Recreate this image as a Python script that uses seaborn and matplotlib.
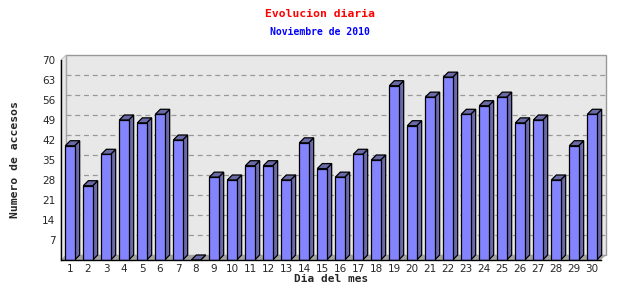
import matplotlib
matplotlib.use("Agg")
import matplotlib.pyplot as plt
from matplotlib.patches import Polygon, Rectangle
import seaborn as sns
import pandas as pd

days = [str(d) for d in range(1, 31)]
visits = [40, 26, 37, 49, 48, 51, 42, 0, 29, 28, 33, 33, 28, 41, 32,
          29, 37, 35, 61, 47, 57, 64, 51, 54, 57, 48, 49, 28, 40, 51]
y_ticks = [7, 14, 21, 28, 35, 42, 49, 56, 63, 70]

title = "Evolucion diaria"
subtitle = "Noviembre de 2010"
x_label = "Dia del mes"
y_label = "Numero de accesos"

FRONT = "#8484ff"
SIDE = "#6a6aa8"
WALL = "#e8e8e8"
FLOOR = "#a4a4a4"

sns.set_style("white")
plt.rcParams['font.family'] = ['DejaVu Sans']

df = pd.DataFrame({"dia": days, "accesos": visits})

fig = plt.figure(figsize=(6.4, 3.0), dpi=100)
ax = fig.add_axes([61 / 640, 40 / 300, 540 / 640, 200 / 300])
ax.set_facecolor("none")

ymax = 70
ax.set_xlim(-0.5, len(days) - 0.5)
ax.set_ylim(0, ymax)

# depth in data units (5 px)
dpx = 5.0
dx = dpx / (540 / len(days))
dy = dpx * ymax / 200

x0, x1 = -0.5, len(days) - 0.5
# back wall
ax.add_patch(Rectangle((x0 + dx, dy), x1 - x0, ymax, facecolor=WALL,
                       edgecolor="#999999", linewidth=1.0, zorder=0, clip_on=False))
# floor
ax.add_patch(Polygon([(x0, 0), (x1, 0), (x1 + dx, dy), (x0 + dx, dy)],
                     closed=True, facecolor=FLOOR, edgecolor="none",
                     zorder=0.5, clip_on=False))
# left wall edge
ax.add_patch(Polygon([(x0, 0), (x0, ymax), (x0 + dx, ymax + dy), (x0 + dx, dy)],
                     closed=True, facecolor=WALL, edgecolor="#bbbbbb",
                     linewidth=0.6, zorder=0.4, clip_on=False))
# grid lines on back wall
for v in y_ticks[:-1]:
    ax.plot([x0 + dx, x1 + dx], [v + dy, v + dy], color="#999999",
            linestyle=(0, (4, 3)), linewidth=0.9, zorder=0.6, clip_on=False)

sns.barplot(data=df, x="dia", y="accesos", color=FRONT, saturation=1,
            width=0.52, edgecolor="black", linewidth=0.9, ax=ax, zorder=3)

for p in list(ax.containers[0]):
    bx = p.get_x()
    bw = p.get_width()
    h = p.get_height()
    top = Polygon([(bx, h), (bx + bw, h), (bx + bw + dx, h + dy), (bx + dx, h + dy)],
                  closed=True, facecolor=SIDE, edgecolor="black", linewidth=0.9,
                  zorder=2.9, clip_on=False)
    side = Polygon([(bx + bw, 0), (bx + bw, h), (bx + bw + dx, h + dy), (bx + bw + dx, dy)],
                   closed=True, facecolor=SIDE, edgecolor="black", linewidth=0.9,
                   zorder=2.8, clip_on=False)
    ax.add_patch(top)
    ax.add_patch(side)

for s in ["top", "right"]:
    ax.spines[s].set_visible(False)
for s in ["left", "bottom"]:
    ax.spines[s].set_color("black")
    ax.spines[s].set_linewidth(1.0)
    ax.spines[s].set_zorder(5)

ax.set_yticks(y_ticks)
ax.set_yticklabels([str(v) for v in y_ticks])
ax.tick_params(axis="y", direction="out", length=3, width=1, color="black",
               labelsize=7.5, pad=1)
ax.set_xticks(range(len(days)))
ax.set_xticklabels(days)
ax.set_xticks([i + 0.5 for i in range(len(days))], minor=True)
ax.tick_params(axis="x", which="major", length=0, labelsize=7.5, pad=3)
ax.tick_params(axis="x", which="minor", direction="out", length=3, width=1,
               color="black")

ax.set_xlabel(x_label, fontsize=8, fontweight="bold", family="DejaVu Sans Mono",
              labelpad=0)
ax.set_ylabel(y_label, fontsize=8.2, fontweight="bold", family="DejaVu Sans Mono",
              labelpad=16)

fig.text(0.5, 1 - 14 / 300, title, color="red", fontsize=8.2, fontweight="bold",
         family="DejaVu Sans Mono", ha="center", va="center")
fig.text(0.5, 1 - 32 / 300, subtitle, color="blue", fontsize=7, fontweight="bold",
         family="DejaVu Sans Mono", ha="center", va="center")

fig.savefig("out.png", dpi=100, facecolor="white")
